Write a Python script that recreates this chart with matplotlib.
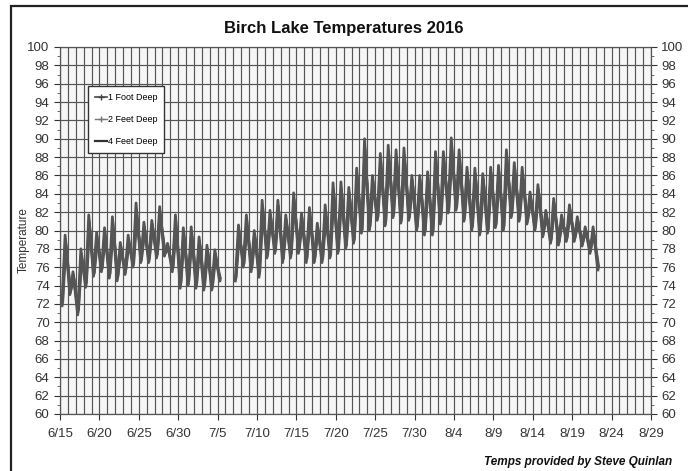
import numpy as np
import matplotlib
matplotlib.use("Agg")
import matplotlib.pyplot as plt
from matplotlib.lines import Line2D
from matplotlib.patches import Rectangle
from matplotlib.ticker import MultipleLocator, FixedLocator

plt.rcParams['font.family'] = ['Liberation Sans', 'DejaVu Sans']

nan = np.nan

# days counted from 6/15 (day 0) ; one high and one low reading per day
hi_1ft = [79.5, 75.5, 78.0, 81.7, 79.8, 80.3, 81.5, 78.7, 79.5, 83.0,
          80.9, 81.1, 82.6, 78.6, 81.7, 80.3, 80.4, 79.3, 78.4, 77.9,
          nan, nan, 80.6, 81.7, 80.0, 83.3, 82.2, 83.3, 81.7, 84.1,
          81.9, 82.5, 80.8, 82.8, 85.2, 85.3, 84.7, 86.8, 90.0, 86.0,
          88.4, 89.3, 88.8, 89.0, 86.0, 86.0, 86.4, 88.6, 88.6, 90.1,
          88.8, 86.9, 86.8, 86.2, 86.9, 87.1, 88.8, 87.4, 86.9, 84.2,
          85.0, 82.2, 83.5, 81.7, 82.8, 81.5, 80.4, 80.4, nan]
lo_1ft = [71.8, 73.0, 70.8, 73.8, 75.0, 75.5, 74.8, 74.5, 75.2, 76.0,
          76.5, 76.5, 77.0, 77.2, 75.5, 73.7, 74.0, 73.7, 73.5, 73.5,
          74.5, nan, 74.5, 76.0, 75.5, 74.9, 77.0, 77.5, 76.5, 77.0,
          77.5, 76.5, 76.5, 76.5, 77.0, 77.5, 78.0, 78.6, 79.7, 80.0,
          81.1, 80.5, 81.4, 80.8, 81.1, 80.0, 79.5, 79.5, 80.7, 81.9,
          82.2, 81.0, 80.0, 79.5, 79.7, 80.3, 80.0, 81.4, 81.0, 80.7,
          80.0, 79.3, 78.6, 78.4, 78.8, 78.8, 78.3, 77.5, 75.7]

hi_2ft = [79.0, 75.2, 77.4, 81.0, 79.3, 79.8, 80.9, 78.3, 79.0, 82.2,
          80.4, 80.7, 82.0, 78.3, 81.0, 79.8, 79.9, 78.9, 78.0, 77.5,
          nan, nan, 80.0, 81.1, 79.6, 82.6, 81.7, 82.7, 81.2, 83.4,
          81.4, 82.0, 80.4, 82.2, 84.5, 84.6, 84.1, 86.0, 89.0, 85.4,
          87.6, 88.5, 88.0, 88.2, 85.5, 85.5, 85.8, 87.8, 87.9, 89.2,
          88.0, 86.3, 86.2, 85.7, 86.3, 86.4, 88.0, 86.8, 86.3, 83.8,
          84.5, 81.8, 83.0, 81.3, 82.3, 81.1, 80.1, 80.0, nan]
lo_2ft = [72.0, 73.2, 71.1, 74.0, 75.2, 75.7, 75.0, 74.8, 75.4, 76.2,
          76.7, 76.7, 77.2, 77.4, 75.8, 74.0, 74.2, 74.0, 73.8, 73.7,
          74.6, nan, 74.7, 76.2, 75.8, 75.2, 77.2, 77.7, 76.8, 77.2,
          77.7, 76.8, 76.7, 76.8, 77.2, 77.7, 78.2, 78.8, 79.9, 80.2,
          81.3, 80.7, 81.6, 81.0, 81.3, 80.2, 79.8, 79.7, 80.9, 82.1,
          82.4, 81.2, 80.3, 79.7, 79.9, 80.5, 80.2, 81.6, 81.2, 80.9,
          80.2, 79.5, 78.8, 78.6, 79.0, 79.0, 78.5, 77.7, 75.9]

hi_4ft = [78.4, 74.8, 76.8, 80.2, 78.8, 79.2, 80.2, 77.8, 78.5, 81.4,
          79.8, 80.2, 81.3, 77.9, 80.3, 79.2, 79.3, 78.4, 77.6, 77.0,
          nan, nan, 79.3, 80.4, 79.1, 81.8, 81.1, 82.0, 80.6, 82.6,
          80.8, 81.4, 80.0, 81.5, 83.7, 83.8, 83.4, 85.1, 87.8, 84.7,
          86.7, 87.5, 87.1, 87.3, 84.9, 84.9, 85.1, 86.9, 87.0, 88.2,
          87.1, 85.6, 85.5, 85.1, 85.6, 85.7, 87.1, 86.1, 85.6, 83.3,
          84.0, 81.4, 82.5, 80.9, 81.8, 80.7, 79.8, 79.6, nan]
lo_4ft = [72.3, 73.4, 71.4, 74.3, 75.4, 75.9, 75.3, 75.0, 75.7, 76.4,
          76.9, 77.0, 77.4, 77.6, 76.0, 74.3, 74.5, 74.2, 74.0, 73.9,
          74.8, nan, 75.0, 76.4, 76.0, 75.5, 77.4, 77.9, 77.0, 77.5,
          77.9, 77.0, 77.0, 77.0, 77.4, 77.9, 78.4, 79.0, 80.1, 80.5,
          81.5, 81.0, 81.8, 81.3, 81.5, 80.5, 80.0, 80.0, 81.1, 82.3,
          82.6, 81.5, 80.5, 80.0, 80.1, 80.7, 80.5, 81.8, 81.4, 81.1,
          80.5, 79.8, 79.1, 78.8, 79.2, 79.2, 78.8, 78.0, 76.1]

date_labels = ['6/15', '6/20', '6/25', '6/30', '7/5', '7/10', '7/15', '7/20',
               '7/25', '7/30', '8/4', '8/9', '8/14', '8/19', '8/24', '8/29']
series_names = ['1 Foot Deep', '2 Feet Deep', '4 Feet Deep']


def zigzag(lo, hi, t_lo, t_hi):
    xs, ys = [], []
    for d in range(len(lo)):
        xs += [d + t_lo, d + t_hi]
        ys += [lo[d], hi[d]]
    return np.array(xs), np.array(ys)


fig = plt.figure(figsize=(6.88, 4.71), dpi=100)
ax = fig.add_axes([60 / 688, 1 - 414 / 471, 591 / 688, 367 / 471])
ax.set_facecolor('#f6f6f6')

line_col = '#555555'
for lo, hi, tl, th in [(lo_4ft, hi_4ft, 0.35, 0.75),
                       (lo_2ft, hi_2ft, 0.30, 0.70),
                       (lo_1ft, hi_1ft, 0.25, 0.65)]:
    x, y = zigzag(lo, hi, tl, th)
    ax.plot(x, y, color=line_col, lw=2.0, zorder=3)

ax.set_xlim(0, 75)
ax.set_ylim(60, 100)
ax.xaxis.set_major_locator(FixedLocator(np.arange(0, 76, 5)))
ax.set_xticklabels(date_labels)
ax.xaxis.set_minor_locator(MultipleLocator(1))
ax.yaxis.set_major_locator(MultipleLocator(2))
ax.yaxis.set_minor_locator(MultipleLocator(1))
ax.grid(which='both', axis='x', color='#555555', lw=0.85, zorder=1)
ax.grid(which='major', axis='y', color='#555555', lw=0.85, zorder=1)
ax.set_axisbelow(True)

ax.tick_params(axis='both', which='major', labelsize=9.5, colors='#333333',
               length=4, width=0.8)
ax.tick_params(axis='x', which='major', pad=6)
ax.tick_params(axis='y', which='minor', length=2, width=0.6, colors='#555555')
ax.tick_params(axis='x', which='minor', length=0)
ax.tick_params(axis='y', which='both', right=True, labelright=True)
for s in ax.spines.values():
    s.set_color('#555555')
    s.set_linewidth(0.9)

ax.set_ylabel('Temperature', fontsize=8.5, color='#333333')
ax.yaxis.set_label_coords(-0.051, 0.474)

fig.text(0.5, 1 - 28 / 471, 'Birch Lake Temperatures 2016', ha='center',
         va='center', fontsize=12, fontweight='bold', color='#111111')
fig.text(672 / 688, 1 - 462 / 471, 'Temps provided by Steve Quinlan',
         ha='right', va='center', fontsize=8.5, fontweight='bold',
         style='italic', color='#111111')

fig.patches.append(Rectangle((11 / 688, -0.05), 1.0, 1 - 6 / 471 + 0.05,
                             transform=fig.transFigure, fill=False,
                             edgecolor='#222222', lw=1.6))

handles = [Line2D([], [], color='#444444', lw=1.2, marker='+', ms=5),
           Line2D([], [], color='#777777', lw=1.0, marker='+', ms=4),
           Line2D([], [], color='#333333', lw=1.6)]
leg = ax.legend(handles, series_names, loc='upper left',
                bbox_to_anchor=(0.047, 0.893), fontsize=6.5, labelspacing=1.4,
                handlelength=1.3, handletextpad=0.1, borderpad=0.8,
                borderaxespad=0, fancybox=False, framealpha=1,
                edgecolor='#333333')
leg.get_frame().set_linewidth(1.0)

fig.savefig('out.png', dpi=100)
